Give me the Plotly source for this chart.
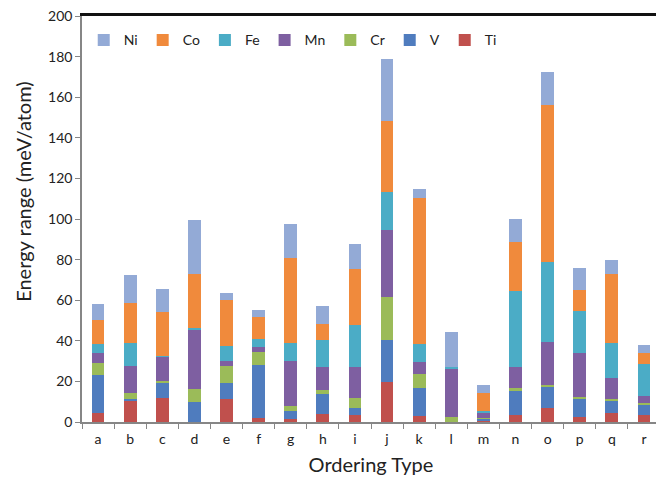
import plotly.graph_objects as go

categories = ["a","b","c","d","e","f","g","h","i","j","k","l","m","n","o","p","q","r"]

Ti = [4.5, 10.6, 12.0, 0.0, 11.1, 2.1, 1.7, 4.1, 3.3, 19.6, 2.8, 0.0, 0.5, 3.3, 6.9, 2.5, 4.6, 3.6]
V  = [18.9, 0.5, 7.6, 10.1, 8.2, 26.0, 3.7, 9.8, 3.8, 20.8, 13.9, 0.0, 1.0, 12.2, 10.3, 8.6, 5.7, 4.9]
Cr = [5.5, 3.3, 0.8, 6.3, 8.5, 6.2, 2.3, 2.1, 4.9, 21.4, 7.0, 2.5, 0.5, 1.2, 1.1, 1.2, 1.2, 0.8]
Mn = [5.3, 13.4, 11.8, 29.4, 2.4, 2.8, 22.5, 11.3, 15.0, 33.0, 6.1, 24.0, 2.9, 10.6, 20.9, 21.7, 10.1, 3.4]
Fe = [4.2, 11.1, 0.5, 0.4, 7.4, 3.6, 8.5, 13.1, 20.9, 18.4, 8.6, 0.5, 0.5, 37.3, 39.6, 20.8, 17.3, 15.9]
Co = [11.8, 19.9, 21.6, 26.8, 22.4, 10.8, 42.2, 8.1, 27.3, 35.0, 71.9, 0.0, 9.0, 24.0, 77.6, 10.2, 33.8, 5.4]
Ni = [7.8, 13.6, 11.1, 26.4, 3.6, 3.9, 16.6, 8.4, 12.3, 30.7, 4.6, 17.5, 3.6, 11.4, 16.0, 10.7, 6.9, 3.9]

series = [
    ("Ti", Ti, "#C0504D"),
    ("V",  V,  "#4F7CBE"),
    ("Cr", Cr, "#9BBB59"),
    ("Mn", Mn, "#7E5FA1"),
    ("Fe", Fe, "#4BACC6"),
    ("Co", Co, "#F08A3C"),
    ("Ni", Ni, "#93AAD6"),
]

FONT = "Lato"
fig = go.Figure()
for name, vals, col in series:
    fig.add_trace(go.Bar(x=categories, y=vals, name=name, marker_color=col,
                         marker_line_width=0))

fig.update_layout(
    barmode="stack",
    bargap=0.6,
    width=656, height=473,
    margin=dict(l=74, r=4, t=8, b=59, autoexpand=False),
    paper_bgcolor="white", plot_bgcolor="white",
    font=dict(family=FONT, color="#222222", size=14),
    legend=dict(orientation="h", traceorder="reversed", x=0.003, y=0.94,
                xanchor="left", yanchor="middle", font=dict(size=14),
                bgcolor="rgba(0,0,0,0)", itemwidth=30, tracegroupgap=0),
    xaxis=dict(type="category", showline=True, linecolor="#868686", linewidth=1.5,
               ticks="outside", tickson="boundaries", ticklen=5, tickcolor="#868686",
               tickfont=dict(size=14), showgrid=False, ticklabelstandoff=3,
               ticklabeloverflow="allow", automargin=False,
               title=dict(text="Ordering Type", font=dict(size=20), standoff=12)),
    yaxis=dict(range=[0, 200], dtick=20, showline=True, linecolor="#868686", linewidth=1.5,
               ticks="outside", ticklen=5, tickcolor="#868686", showgrid=False,
               tickfont=dict(size=14), zeroline=False, ticklabeloverflow="allow",
               automargin=False),
    xaxis2=dict(overlaying="x", side="top", showline=True, linecolor="#111111",
                linewidth=2.5, showticklabels=False, ticks="", showgrid=False,
                zeroline=False, range=[0, 1], fixedrange=True, automargin=False),
    yaxis2=dict(overlaying="y", side="right", showline=True, linecolor="#666666",
                linewidth=2, showticklabels=False, ticks="", showgrid=False,
                zeroline=False, range=[0, 1], fixedrange=True, automargin=False),
    annotations=[
        dict(text="Energy range (meV/atom)", textangle=-90, xref="paper", yref="paper",
             x=-0.101, y=0.566, xanchor="center", yanchor="middle", showarrow=False,
             font=dict(size=20, family=FONT, color="#222222")),
    ],
)

# invisible helper trace to activate the top and right frame axes
fig.add_trace(go.Scatter(x=[0], y=[0], xaxis="x2", yaxis="y2", mode="markers",
                         marker=dict(opacity=0), showlegend=False, hoverinfo="skip"))

fig.write_html("out.html")
